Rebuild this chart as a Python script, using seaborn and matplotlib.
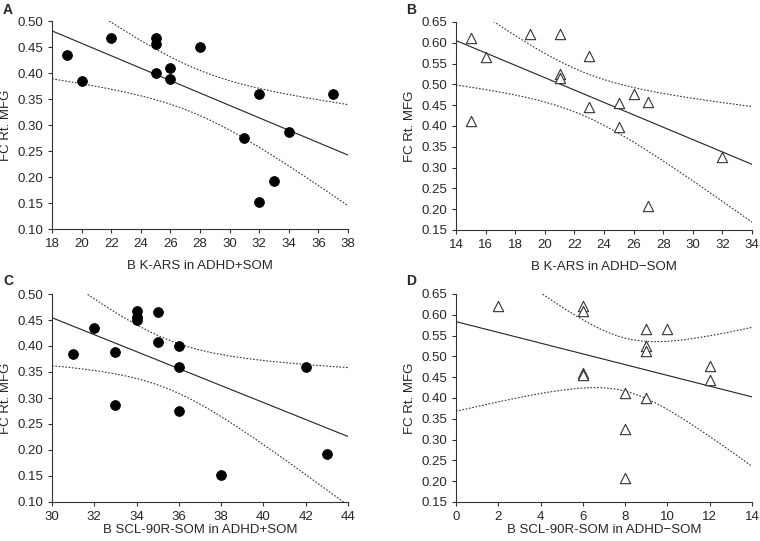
import numpy as np
import pandas as pd
import matplotlib
matplotlib.use("Agg")
import matplotlib.pyplot as plt
import seaborn as sns

# ---------------------------------------------------------------------
# DATA
# ---------------------------------------------------------------------
kars_som = [19, 20, 22, 25, 25, 25, 26, 26, 28, 31, 32, 32, 33, 34, 37]
fc_kars_som = [0.435, 0.385, 0.467, 0.468, 0.455, 0.400, 0.410, 0.388,
               0.450, 0.275, 0.360, 0.152, 0.192, 0.286, 0.360]

kars_nosom = [15, 15, 16, 19, 21, 21, 21, 23, 23, 25, 25, 26, 27, 27, 32]
fc_kars_nosom = [0.612, 0.413, 0.567, 0.620, 0.620, 0.524, 0.515, 0.568,
                 0.445, 0.455, 0.398, 0.478, 0.458, 0.208, 0.326]

scl_som = [31, 32, 33, 33, 34, 34, 34, 35, 35, 36, 36, 36, 38, 42, 43]
fc_scl_som = [0.385, 0.434, 0.388, 0.286, 0.468, 0.455, 0.450, 0.466,
              0.408, 0.400, 0.359, 0.275, 0.152, 0.360, 0.192]

scl_nosom = [2, 6, 6, 6, 6, 8, 8, 8, 9, 9, 9, 9, 10, 12, 12]
fc_scl_nosom = [0.620, 0.620, 0.610, 0.460, 0.455, 0.413, 0.326, 0.208,
                0.567, 0.524, 0.512, 0.400, 0.567, 0.478, 0.443]

T_975_DF13 = 2.160  # t critical value, 95% two-sided, n=15

sns.set_style("ticks")
plt.rcParams["font.family"] = ["Liberation Sans", "DejaVu Sans"]
plt.rcParams["font.size"] = 8.5


def fit_panel(ax, x, y, xlim, ylim, xlabel, filled, xpad):
    x = np.asarray(x, dtype=float)
    y = np.asarray(y, dtype=float)
    df = pd.DataFrame({"x": x, "y": y})
    ax.set_xlim(xlim)
    ax.set_ylim(ylim)

    # regression line across the whole axis
    sns.regplot(data=df, x="x", y="y", ax=ax, scatter=False, ci=None,
                truncate=False, line_kws={"color": "#222222", "lw": 0.8})

    # 95% confidence band of the mean, drawn as dotted lines
    slope, intercept = np.polyfit(x, y, 1)
    n = len(x)
    resid = y - (slope * x + intercept)
    s = np.sqrt(np.sum(resid ** 2) / (n - 2))
    sxx = np.sum((x - x.mean()) ** 2)
    grid = np.linspace(xlim[0], xlim[1], 200)
    fit = slope * grid + intercept
    half = T_975_DF13 * s * np.sqrt(1 / n + (grid - x.mean()) ** 2 / sxx)
    for band in (fit + half, fit - half):
        ax.plot(grid, band, color="#333333", lw=0.8, ls=(0, (1.5, 1.5)))

    if filled:
        sns.scatterplot(data=df, x="x", y="y", ax=ax, marker="o", s=50,
                        color="black", edgecolor="black", zorder=3)
    else:
        sns.scatterplot(data=df, x="x", y="y", ax=ax, marker="^", s=55,
                        facecolor="white", edgecolor="#333333",
                        linewidth=0.8, zorder=3)

    ax.set_xlim(xlim)
    ax.set_ylim(ylim)
    ax.set_xticks(np.arange(xlim[0], xlim[1] + 0.1, 2))
    ax.set_yticks(np.arange(ylim[0], ylim[1] + 0.001, 0.05))
    ax.yaxis.set_major_formatter(matplotlib.ticker.FormatStrFormatter("%.2f"))
    ax.set_xlabel(xlabel, fontsize=9.5, labelpad=xpad)
    ax.set_ylabel("FC Rt. MFG", fontsize=9.5, labelpad=4)
    ax.tick_params(labelsize=9.5, length=3, width=0.8, color="#333333")
    for side in ("left", "bottom"):
        ax.spines[side].set_linewidth(0.8)
        ax.spines[side].set_color("#333333")
    sns.despine(ax=ax)


fig = plt.figure(figsize=(7.6, 5.41), dpi=100)
w, h = 296 / 760, 208 / 541
ax_a = fig.add_axes([52 / 760, (541 - 229) / 541, w, h])
ax_b = fig.add_axes([456 / 760, (541 - 230) / 541, w, h])
ax_c = fig.add_axes([52 / 760, (541 - 502) / 541, w, h])
ax_d = fig.add_axes([456 / 760, (541 - 502) / 541, w, h])

fit_panel(ax_a, kars_som, fc_kars_som, (18, 38), (0.10, 0.50),
          "B K-ARS in ADHD+SOM", True, 7)
fit_panel(ax_b, kars_nosom, fc_kars_nosom, (14, 34), (0.15, 0.65),
          "B K-ARS in ADHD\u2212SOM", False, 7)
fit_panel(ax_c, scl_som, fc_scl_som, (30, 44), (0.10, 0.50),
          "B SCL-90R-SOM in ADHD+SOM", True, 1)
fit_panel(ax_d, scl_nosom, fc_scl_nosom, (0, 14), (0.15, 0.65),
          "B SCL-90R-SOM in ADHD\u2212SOM", False, 1)

for label, (fx, fy) in zip("ABCD", [(3, 3), (406, 3), (3, 274), (406, 274)]):
    fig.text(fx / 760, 1 - fy / 541, label, fontsize=10, fontweight="bold",
             ha="left", va="top")

fig.savefig("out.png", dpi=100)
